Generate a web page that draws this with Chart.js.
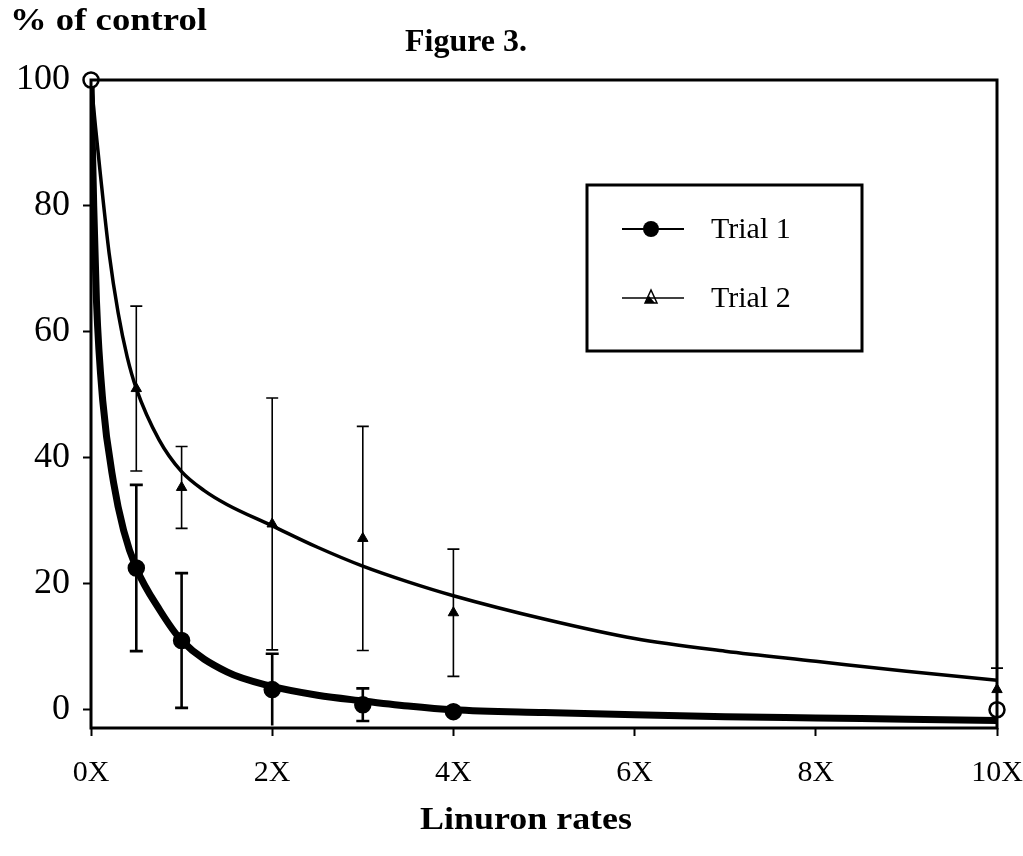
<!DOCTYPE html>
<html>
<head>
<meta charset="utf-8">
<script src="https://cdn.jsdelivr.net/npm/chart.js@4.4.1/dist/chart.umd.min.js"></script>
<style>
  html, body { margin: 0; padding: 0; background: #fff; }
  canvas { display: block; }
</style>
</head>
<body>
<canvas id="c" width="1023" height="856"></canvas>
<script>
// Axis ticks: linuron dose as multiples of the label rate
const rateTicks = [0, 2, 4, 6, 8, 10];
const rateTickLabels = ['0X', '2X', '4X', '6X', '8X', '10X'];
const percentTicks = [0, 20, 40, 60, 80, 100];

// Observed means (% of control) and error for each trial
const trialRates = [0, 0.5, 1, 2, 3, 4, 10];
const trial1 = [100, 22.5, 11, 3.2, 0.8, -0.3, 0];
const trial1Err = [0, 13.2, 10.7, 5.7, 2.6, 0, 0];
const trial2 = [100, 51, 35.3, 29.5, 27.2, 15.4, 3.2];
const trial2Err = [0, 13.1, 6.5, 20, 17.8, 10.1, 3.4];

// Fitted dose-response curves
const fit1Rates = [0, 0.03, 0.06, 0.13, 0.25, 0.36, 0.5, 0.76, 1, 1.5, 2, 2.5, 3, 3.5, 4, 5, 6, 7, 8, 9, 10];
const fit1 = [100, 80, 65, 49, 36, 28.5, 22.5, 15.8, 11, 6, 3.7, 2.3, 1.4, 0.6, 0, -0.45, -0.8, -1.1, -1.3, -1.5, -1.7];
const fit2Rates = [0, 0.05, 0.1, 0.2, 0.3, 0.4, 0.5, 0.75, 1, 1.25, 1.5, 2, 2.5, 3, 3.5, 4, 5, 6, 7, 8, 9, 10];
const fit2 = [100, 92.5, 85.5, 72.5, 63, 56, 51, 42.9, 37.8, 34.8, 32.6, 29.2, 25.8, 22.8, 20.3, 18.1, 14.4, 11.3, 9.3, 7.7, 6.1, 4.7];

const SERIF = "'Liberation Serif', 'Times New Roman', serif";
const toPoints = (xs, ys) => xs.map((x, i) => ({ x, y: ys[i] }));

// Vertical error bars with caps, drawn under the markers
const errorBars = {
  id: 'errorBars',
  beforeDatasetsDraw(chart) {
    const { ctx, scales: { x, y }, chartArea } = chart;
    const draw = (means, errs, lw, cap) => {
      ctx.save();
      ctx.strokeStyle = '#000';
      ctx.lineWidth = lw;
      trialRates.forEach((r, i) => {
        const e = errs[i];
        if (!e) return;
        const px = x.getPixelForValue(r);
        const top = y.getPixelForValue(means[i] + e);
        const bot = Math.min(y.getPixelForValue(means[i] - e), chartArea.bottom);
        ctx.beginPath();
        ctx.moveTo(px, top); ctx.lineTo(px, bot);
        ctx.moveTo(px - cap, top); ctx.lineTo(px + cap, top);
        if (bot < chartArea.bottom - 5) { ctx.moveTo(px - cap, bot); ctx.lineTo(px + cap, bot); }
        ctx.stroke();
      });
      ctx.restore();
    };
    draw(trial2, trial2Err, 1.6, 6);
    draw(trial1, trial1Err, 2.6, 6.5);
  }
};

// Text stretched horizontally to a given width
function wideText(ctx, text, x, y, width, align) {
  const w = ctx.measureText(text).width;
  const k = width / w;
  ctx.save();
  const left = align === 'center' ? x - width / 2 : x;
  ctx.translate(left, y);
  ctx.scale(k, 1);
  ctx.textAlign = 'left';
  ctx.fillText(text, 0, 0);
  ctx.restore();
}

// Plot frame, titles and legend box
const decorations = {
  id: 'decorations',
  afterDraw(chart) {
    const { ctx, chartArea: a } = chart;
    ctx.save();
    ctx.strokeStyle = '#000';
    ctx.lineWidth = 3;
    ctx.strokeRect(a.left, a.top, a.right - a.left, a.bottom - a.top);

    ctx.fillStyle = '#000';
    ctx.textBaseline = 'middle';
    ctx.font = `bold 32px ${SERIF}`;
    wideText(ctx, '% of control', 10, 22, 197, 'left');
    ctx.font = `bold 31px ${SERIF}`;
    wideText(ctx, 'Figure 3.', 466, 43, 122, 'center');
    ctx.font = `bold 32px ${SERIF}`;
    wideText(ctx, 'Linuron rates', 526, 821, 212, 'center');

    // legend
    ctx.lineWidth = 3;
    ctx.strokeRect(587, 185, 275, 166);
    ctx.font = `30px ${SERIF}`;
    ctx.textAlign = 'left';
    // Trial 1
    ctx.lineWidth = 2;
    ctx.beginPath(); ctx.moveTo(622, 229); ctx.lineTo(684, 229); ctx.stroke();
    ctx.beginPath(); ctx.arc(651, 229, 8, 0, Math.PI * 2); ctx.fill();
    ctx.fillText('Trial 1', 711, 230);
    // Trial 2
    ctx.lineWidth = 1.5;
    ctx.beginPath(); ctx.moveTo(622, 298); ctx.lineTo(684, 298); ctx.stroke();
    ctx.beginPath();
    ctx.moveTo(645, 303); ctx.lineTo(651, 290); ctx.lineTo(657, 303); ctx.closePath();
    ctx.stroke();
    ctx.beginPath();
    ctx.moveTo(645, 303); ctx.lineTo(649, 296); ctx.lineTo(655, 303); ctx.closePath();
    ctx.fill();
    ctx.fillText('Trial 2', 711, 299);
    ctx.restore();
  }
};

new Chart(document.getElementById('c'), {
  type: 'scatter',
  data: {
    datasets: [
      {
        label: 'Trial 1',
        data: toPoints(trialRates, trial1),
        showLine: false,
        pointStyle: 'circle',
        pointRadius: 7.5,
        pointBackgroundColor: trial1.map((v, i) => (i === 0 || i === trial1.length - 1) ? '#fff' : '#000'),
        pointBorderColor: '#000',
        pointBorderWidth: 2.5,
        clip: false,
        order: 0
      },
      {
        label: 'Trial 2',
        data: toPoints(trialRates, trial2),
        showLine: false,
        pointStyle: 'triangle',
        pointRadius: 6,
        pointBackgroundColor: '#000',
        pointBorderColor: '#000',
        pointBorderWidth: 1,
        clip: false,
        order: 1
      },
      {
        label: 'Trial 1 fit',
        data: toPoints(fit1Rates, fit1),
        showLine: true,
        borderColor: '#000',
        borderWidth: 7,
        pointRadius: 0,
        cubicInterpolationMode: 'monotone',
        order: 2
      },
      {
        label: 'Trial 2 fit',
        data: toPoints(fit2Rates, fit2),
        showLine: true,
        borderColor: '#000',
        borderWidth: 3.5,
        pointRadius: 0,
        cubicInterpolationMode: 'monotone',
        order: 3
      }
    ]
  },
  options: {
    responsive: false,
    animation: false,
    events: [],
    layout: { padding: { top: 80, right: 26, left: 0, bottom: 0 } },
    plugins: { legend: { display: false }, tooltip: { enabled: false } },
    scales: {
      x: {
        type: 'linear',
        min: 0,
        max: 10,
        afterBuildTicks: s => { s.ticks = rateTicks.map(v => ({ value: v })); },
        afterFit: s => { s.height = 128; s.paddingLeft = 0; s.paddingRight = 0; },
        border: { display: false },
        grid: { display: true, drawOnChartArea: false, drawTicks: true, tickLength: 8, tickWidth: 2, tickColor: '#000', color: '#000' },
        ticks: {
          color: '#000',
          font: { family: SERIF, size: 30 },
          padding: 19,
          maxRotation: 0,
          autoSkip: false,
          callback: (v, i) => rateTickLabels[i]
        }
      },
      y: {
        type: 'linear',
        min: -2.9,
        max: 100,
        afterBuildTicks: s => { s.ticks = percentTicks.map(v => ({ value: v })); },
        afterFit: s => { s.width = 91; s.paddingTop = 0; s.paddingBottom = 0; },
        border: { display: false },
        grid: { display: true, drawOnChartArea: false, drawTicks: true, tickLength: 8, tickWidth: 2, tickColor: '#000', color: '#000' },
        ticks: {
          color: '#000',
          font: { family: SERIF, size: 36 },
          padding: 13,
          autoSkip: false,
          callback: v => String(v)
        }
      }
    }
  },
  plugins: [errorBars, decorations]
});
</script>
</body>
</html>
